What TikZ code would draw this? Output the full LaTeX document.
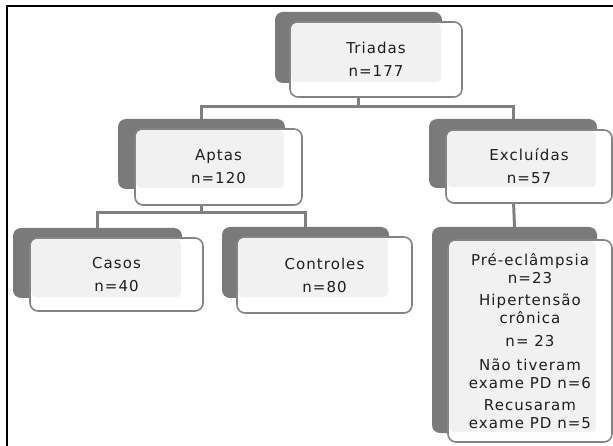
\documentclass[tikz,border=0pt]{standalone}
\usepackage{fontspec}
\setmainfont{DejaVu Sans}[LetterSpace=7]
\definecolor{dk}{HTML}{7A7A7A}
\definecolor{lt}{HTML}{F1F1F1}
\definecolor{bd}{HTML}{858585}
\definecolor{cn}{HTML}{808080}
\definecolor{tx}{HTML}{1E1E1E}
\begin{document}
\begin{tikzpicture}[x=1pt,y=-1pt,
  darkbox/.style={fill=dk, rounded corners=8pt, inner sep=0pt, draw=none},
  whitebox/.style={fill=white, draw=bd, line width=1.6pt, rounded corners=8pt, inner sep=0pt},
  lightfill/.style={fill=lt, rounded corners=5pt},
  txt/.style={text=tx, align=center, inner sep=0pt, font=\fontsize{15}{18}\selectfont},
  conn/.style={draw=cn, line width=3pt},
  frame/.style={draw=black, line width=2.5pt}]
\useasboundingbox (0,0) rectangle (613,446);
\draw[frame] (7,446) -- (7,6) -- (613,6);
% junction coordinates
\coordinate (j1) at (0,107);
\coordinate (j2) at (0,213);
% boxes: dark shapes
\node[darkbox, minimum width=167pt, minimum height=71pt] (tri-d) at (358.5,47.5) {};
\node[darkbox, minimum width=167pt, minimum height=70pt] (apt-d) at (201.5,154) {};
\node[darkbox, minimum width=168pt, minimum height=69pt] (exc-d) at (513,153.5) {};
\node[darkbox, minimum width=169pt, minimum height=70pt] (cas-d) at (97.5,263) {};
\node[darkbox, minimum width=167pt, minimum height=71pt] (con-d) at (305.5,262.5) {};
\node[darkbox, minimum width=165pt, minimum height=206pt] (big-d) at (514.5,330) {};
% connectors
\draw[conn] (tri-d.south) -- (tri-d.south |- j1);
\draw[conn] (apt-d.north) -- (apt-d.north |- j1) -| (exc-d.north);
\draw[conn] (apt-d.south) -- (apt-d.south |- j2);
\draw[conn] (cas-d.north) -- (cas-d.north |- j2) -| (con-d.north);
\draw[conn] (exc-d.south) -- (big-d.north);
% white shapes
\node[whitebox, minimum width=172pt, minimum height=75pt] (tri) at (376,59.5) {};
\node[whitebox, minimum width=167pt, minimum height=76pt] (apt) at (218.5,167) {};
\node[whitebox, minimum width=166pt, minimum height=73pt] (exc) at (529,166.5) {};
\node[whitebox, minimum width=173pt, minimum height=73pt] (cas) at (116.5,274.5) {};
\node[whitebox, minimum width=175pt, minimum height=76pt] (con) at (324.5,275) {};
\node[whitebox, minimum width=164pt, minimum height=202pt] (big) at (530,341) {};
% light overlap areas
\foreach \n in {tri,apt,exc,cas,con,big}{
  \fill[lightfill] ([shift={(2,2)}]\n.north west) rectangle ([shift={(-1,-1)}]\n-d.south east);
}
% texts
\node[txt] (tri-t) at (tri) {Triadas\\[5pt]n=177};
\node[txt] (apt-t) at (apt) {Aptas\\[5pt]n=120};
\node[txt] (exc-t) at (exc) {Excluídas\\[5pt]n=57};
\node[txt] (cas-t) at (cas) {Casos\\[5pt]n=40};
\node[txt] (con-t) at (con) {Controles\\[5pt]n=80};
\node[txt] (big-t) at (big) {Pré-eclâmpsia\\n=23\\[4pt]Hipertensão\\crônica\\[5pt]n= 23\\[6pt]Não tiveram\\exame PD n=6\\[4pt]Recusaram\\exame PD n=5};
\end{tikzpicture}
\end{document}
